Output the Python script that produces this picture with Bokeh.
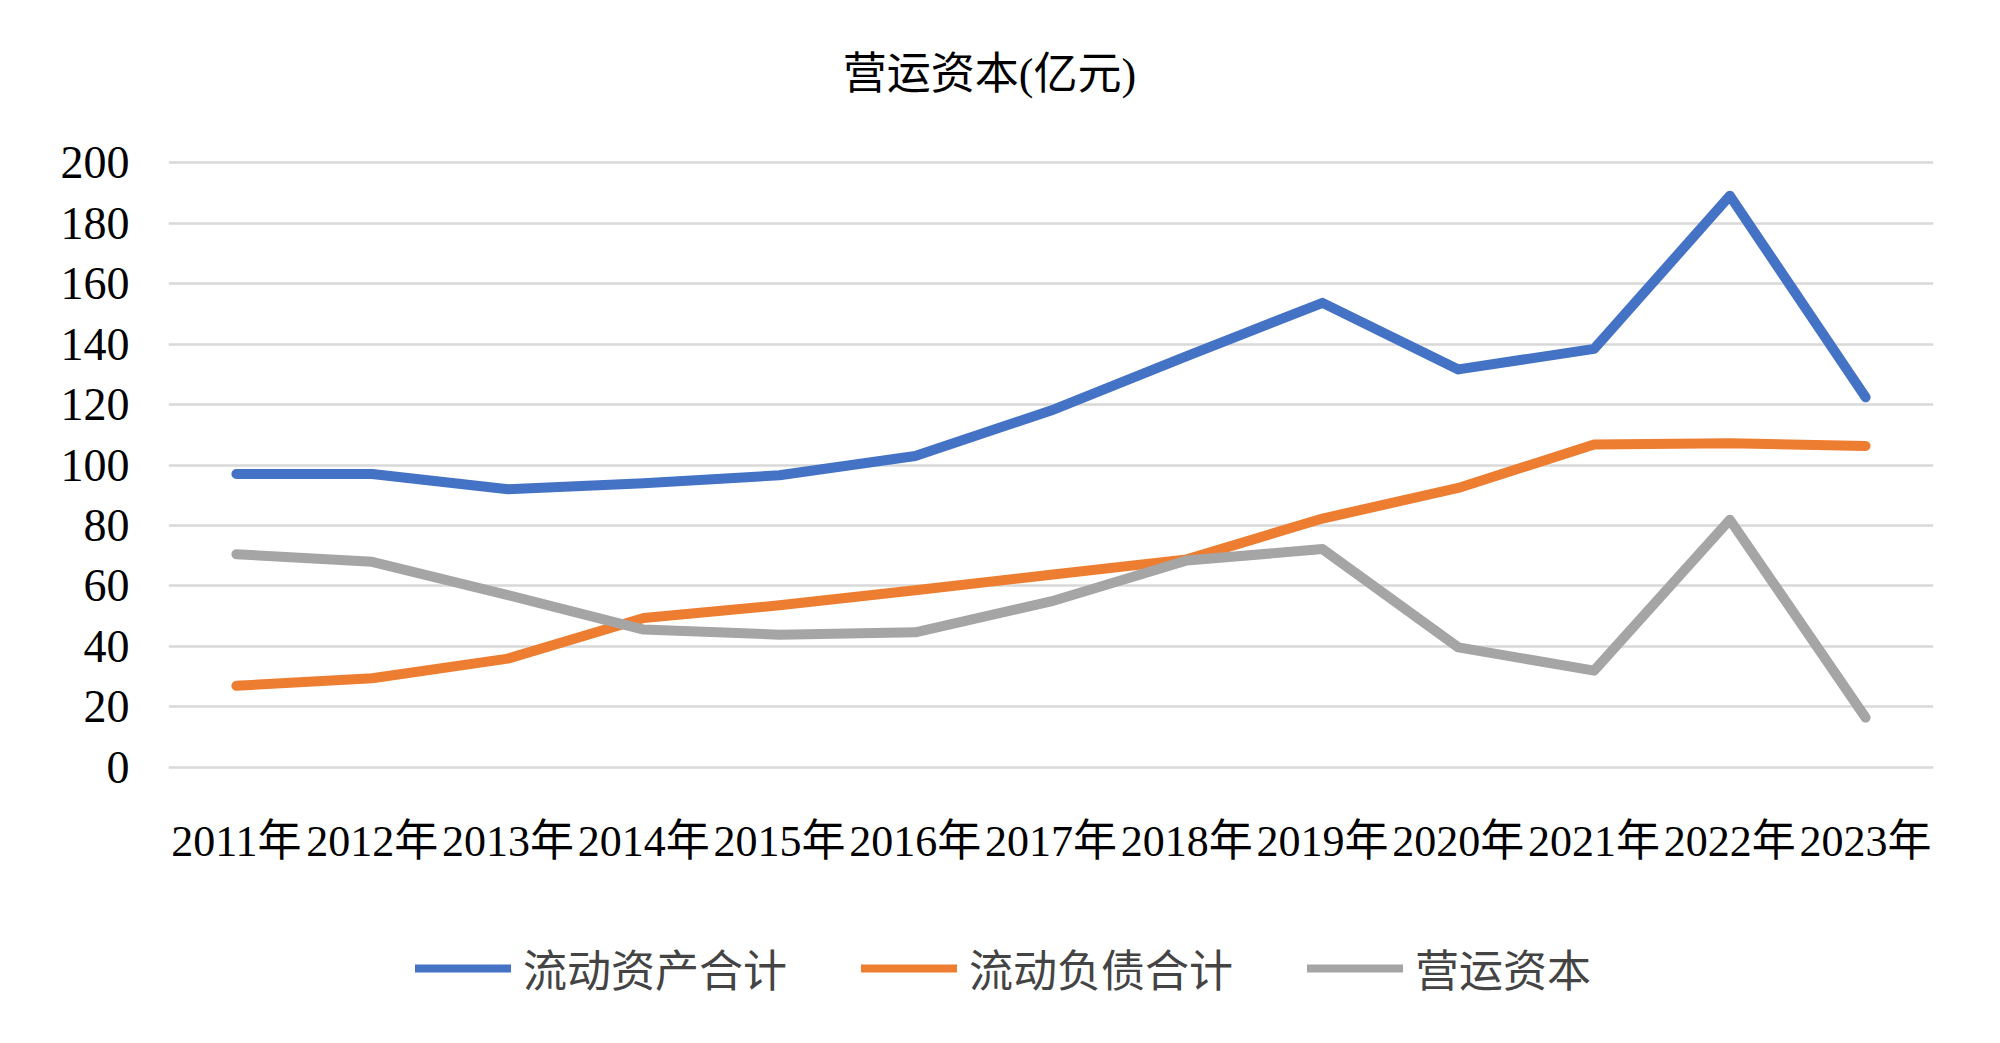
from bokeh.plotting import figure
from bokeh.layouts import column
from bokeh.models import FactorRange, Range1d, FixedTicker, Legend, LegendItem, Label
from bokeh.embed import file_html
from bokeh.resources import INLINE

years = ["2011年", "2012年", "2013年", "2014年", "2015年", "2016年", "2017年",
         "2018年", "2019年", "2020年", "2021年", "2022年", "2023年"]
current_assets = [97.0, 97.0, 92.0, 94.0, 96.6, 103.0, 118.0, 136.0, 153.6, 131.6, 138.4, 189.0, 122.4]
current_liabilities = [27.0, 29.5, 36.0, 49.4, 53.6, 58.6, 63.7, 68.8, 82.3, 92.4, 106.8, 107.2, 106.3]
working_capital = [70.5, 68.0, 57.0, 45.6, 43.9, 44.7, 54.9, 68.4, 72.2, 39.7, 32.0, 81.9, 16.5]
series_names = ["流动资产合计", "流动负债合计", "营运资本"]
colors = ["#4472C4", "#ED7D31", "#A5A5A5"]
y_ticks = [0, 20, 40, 60, 80, 100, 120, 140, 160, 180, 200]
title_text = "营运资本(亿元)"

FONT = "'Liberation Serif', 'Noto Sans CJK SC'"
series = [current_assets, current_liabilities, working_capital]


def strip(height):
    f = figure(width=1984, height=height, x_range=Range1d(0, 1), y_range=Range1d(0, 1),
               output_backend="svg", toolbar_location=None,
               x_axis_location=None, y_axis_location=None,
               min_border_left=0, min_border_right=0, min_border_top=0, min_border_bottom=0)
    f.title = None
    f.outline_line_color = None
    f.xgrid.grid_line_color = None
    f.ygrid.grid_line_color = None
    f.background_fill_color = "white"
    f.border_fill_color = "white"
    return f


# ---- title strip ----
t = strip(100)
t.add_layout(Label(x=821, y=26, x_units="screen", y_units="screen", text=title_text,
                   text_font=FONT, text_font_size="44px", text_align="center",
                   text_baseline="middle", text_color="#000000"))

# ---- main chart ----
p = figure(width=1984, height=777, x_range=FactorRange(factors=years),
           y_range=Range1d(-1, 201), output_backend="svg", toolbar_location=None,
           min_border_left=168, min_border_right=51, min_border_top=59,
           min_border_bottom=107)
p.title = None
p.outline_line_color = None
p.background_fill_color = "white"
p.border_fill_color = "white"

p.xgrid.grid_line_color = None
p.ygrid.grid_line_color = "#D9D9D9"
p.ygrid.grid_line_width = 2.5
p.yaxis.ticker = FixedTicker(ticks=y_ticks)

for ax in (p.xaxis, p.yaxis):
    ax.axis_line_color = None
    ax.major_tick_line_color = None
    ax.minor_tick_line_color = None
    ax.major_label_text_font = FONT
    ax.major_label_text_color = "#000000"
p.xaxis.major_label_text_font_size = "44px"
p.yaxis.major_label_text_font_size = "46px"
p.xaxis.major_label_standoff = 40
p.yaxis.major_label_standoff = 33

for vals, c in zip(series, colors):
    p.line(years, vals, line_color=c, line_width=10, line_cap="round", line_join="round")

# ---- legend strip ----
q = figure(width=1984, height=150, x_range=FactorRange(factors=years),
           y_range=Range1d(0, 200), output_backend="svg", toolbar_location=None,
           x_axis_location=None, y_axis_location=None,
           min_border_left=0, min_border_right=0, min_border_top=0, min_border_bottom=0)
q.title = None
q.outline_line_color = None
q.xgrid.grid_line_color = None
q.ygrid.grid_line_color = None
q.background_fill_color = "white"
q.border_fill_color = "white"

items = []
for name, vals, c in zip(series_names, series, colors):
    r = q.line(years, vals, line_color=c, line_width=8, line_cap="round", visible=False)
    items.append(LegendItem(label=name, renderers=[r]))

legend = Legend(items=items, orientation="horizontal", location=(247, 27),
                label_text_font=FONT, label_text_font_size="44px",
                glyph_width=96, glyph_height=30, label_standoff=12, spacing=74,
                padding=0, margin=0, border_line_color=None,
                background_fill_alpha=0)
q.add_layout(legend, "center")

layout = column(t, p, q, spacing=0)
open("out.html", "w").write(file_html(layout, INLINE))
